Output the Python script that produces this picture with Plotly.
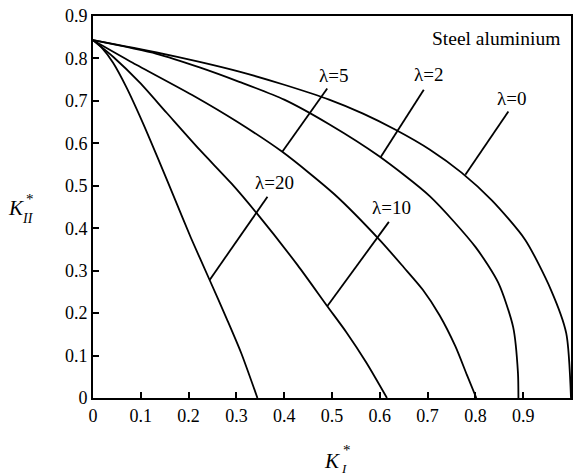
import plotly.graph_objects as go

# ---- data ----
lam0_x = [0, 0.133, 0.223, 0.306, 0.40, 0.494, 0.565, 0.633, 0.705, 0.771, 0.835, 0.904, 0.958, 0.990, 1.0]
lam0_y = [0.843, 0.814, 0.792, 0.769, 0.738, 0.703, 0.670, 0.632, 0.585, 0.531, 0.465, 0.373, 0.255, 0.153, 0.0]

lam2_x = [0, 0.133, 0.223, 0.306, 0.40, 0.494, 0.598, 0.705, 0.800, 0.848, 0.879, 0.889, 0.890]
lam2_y = [0.843, 0.811, 0.779, 0.745, 0.703, 0.645, 0.570, 0.475, 0.356, 0.271, 0.167, 0.06, 0.0]

lam5_x = [0, 0.083, 0.212, 0.30, 0.396, 0.505, 0.600, 0.650, 0.690, 0.725, 0.758, 0.782, 0.802]
lam5_y = [0.843, 0.790, 0.711, 0.652, 0.580, 0.480, 0.372, 0.308, 0.255, 0.195, 0.122, 0.055, 0.0]

lam10_x = [0, 0.042, 0.098, 0.154, 0.223, 0.290, 0.342, 0.428, 0.489, 0.530, 0.572, 0.615]
lam10_y = [0.843, 0.804, 0.743, 0.672, 0.585, 0.505, 0.436, 0.313, 0.218, 0.155, 0.083, 0.0]

lam20_x = [0, 0.02, 0.042, 0.07, 0.104, 0.135, 0.17, 0.205, 0.244, 0.28, 0.31, 0.344]
lam20_y = [0.843, 0.823, 0.790, 0.732, 0.649, 0.567, 0.472, 0.377, 0.278, 0.186, 0.106, 0.0]

series_names = ["λ=0", "λ=2", "λ=5", "λ=10", "λ=20"]
series_x = [lam0_x, lam2_x, lam5_x, lam10_x, lam20_x]
series_y = [lam0_y, lam2_y, lam5_y, lam10_y, lam20_y]

# label text centres and leader lines (from curve point to label)
label_text_x = [0.875, 0.702, 0.504, 0.625, 0.379]
label_text_y = [0.705, 0.762, 0.759, 0.450, 0.507]
leader_curve_x = [0.779, 0.602, 0.396, 0.490, 0.244]
leader_curve_y = [0.526, 0.568, 0.580, 0.216, 0.278]
leader_top_x = [0.869, 0.692, 0.490, 0.619, 0.365]
leader_top_y = [0.675, 0.726, 0.729, 0.415, 0.474]

x_ticks = [0, 0.1, 0.2, 0.3, 0.4, 0.5, 0.6, 0.7, 0.8, 0.9, 1.0]
x_tick_labels = ["0", "0.1", "0.2", "0.3", "0.4", "0.5", "0.6", "0.7", "0.8", "0.9", "1"]
y_ticks = [0, 0.1, 0.2, 0.3, 0.4, 0.5, 0.6, 0.7, 0.8, 0.9]
y_tick_labels = ["0", "0.1", "0.2", "0.3", "0.4", "0.5", "0.6", "0.7", "0.8", "0.9"]

FONT = "Liberation Serif"

fig = go.Figure()
for name, xs, ys in zip(series_names, series_x, series_y):
    fig.add_trace(go.Scatter(x=xs, y=ys, mode="lines", name=name,
                             line=dict(color="black", width=1.8, shape="spline", smoothing=0.7),
                             showlegend=False, hoverinfo="skip"))

anns = []
for i in range(len(series_names)):
    fig.add_shape(type="line", xref="x", yref="y",
                  x0=leader_curve_x[i], y0=leader_curve_y[i],
                  x1=leader_top_x[i], y1=leader_top_y[i],
                  line=dict(color="black", width=1.8))
    anns.append(dict(x=label_text_x[i], y=label_text_y[i], xref="x", yref="y",
                     text=series_names[i], showarrow=False,
                     font=dict(family=FONT, size=19, color="black")))

W, H = 480.0, 382.0
def px_to_paper(px, py):
    return (px - 93) / W, (398 - py) / H

sx, sy = px_to_paper(564, 38)
anns.append(dict(x=sx, y=sy, xref="paper", yref="paper", text="Steel aluminium",
                 xanchor="right", yanchor="middle", showarrow=False,
                 font=dict(family=FONT, size=19.5, color="black")))

def piece(px, py, text, size, italic=True):
    ax, ay = px_to_paper(px, py)
    t = f"<i>{text}</i>" if italic else text
    return dict(x=ax, y=ay, xref="paper", yref="paper", text=t, showarrow=False,
                xanchor="center", yanchor="middle",
                font=dict(family=FONT, size=size, color="black"))

anns.append(piece(16, 208, "K", 21))
anns.append(piece(30, 199, "*", 15, italic=False))
anns.append(piece(28, 219, "II", 14))
anns.append(piece(333, 461, "K", 21))
anns.append(piece(348, 450, "*", 15, italic=False))
anns.append(piece(345, 469, "I", 13))

fig.update_layout(
    width=575, height=475,
    margin=dict(l=93, r=2, t=16, b=77),
    paper_bgcolor="white", plot_bgcolor="white",
    font=dict(family=FONT, size=18, color="black"),
    annotations=anns,
)

axis_common = dict(showgrid=False, zeroline=False, showline=True, linecolor="black",
                   linewidth=2, mirror=True, ticks="inside", ticklen=6, tickwidth=1.5,
                   tickcolor="black", tickfont=dict(family=FONT, size=18, color="black"))
fig.update_xaxes(range=[0, 1], tickvals=x_ticks, ticktext=x_tick_labels, **axis_common)
fig.update_yaxes(range=[0, 0.9], tickvals=y_ticks, ticktext=y_tick_labels, **axis_common)

fig.write_html("out.html")
